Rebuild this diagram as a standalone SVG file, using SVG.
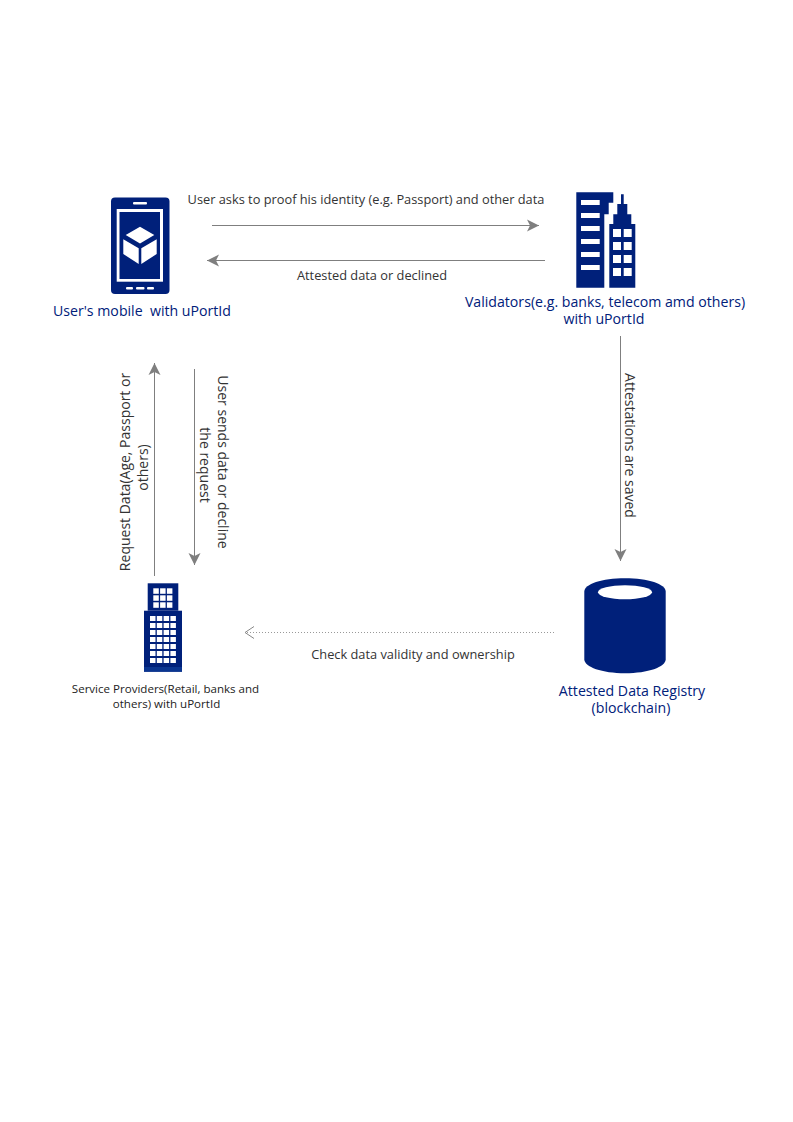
<svg xmlns="http://www.w3.org/2000/svg" width="793" height="1122" viewBox="0 0 793 1122">
<style>
text{font-family:"Open Sans","Liberation Sans",sans-serif;font-size:12.8px;fill:#333;text-anchor:middle}
.r{font-size:14px}
.n{fill:#00207a;font-size:14.15px;white-space:pre}
.s{font-size:11.550px;fill:#222}
.f{fill:#00207a}
.w{fill:#fff}
.c{stroke:#7f7f7f;stroke-width:1;fill:none}
.d{stroke:#999;stroke-dasharray:1 2}
</style>
<defs>
<marker id="a" markerUnits="userSpaceOnUse" markerWidth="14" markerHeight="14" refX="13" refY="7" orient="auto"><path d="M1 1L13 7L1 13L4 7Z" fill="#7f7f7f"/></marker>
<marker id="o" markerUnits="userSpaceOnUse" markerWidth="12" markerHeight="14" refX="10" refY="7" orient="auto"><path d="M1 1L10 7L1 13" fill="none" stroke="#888"/></marker>
</defs>
<g id="connectors">
<path class="c" marker-end="url(#a)" d="M212 225.500H539"/>
<path class="c" marker-end="url(#a)" d="M545 260.500H207"/>
<path class="c" marker-end="url(#a)" d="M620.500 336V561"/>
<path class="c" marker-end="url(#a)" d="M154.500 576V363"/>
<path class="c" marker-end="url(#a)" d="M194.500 369V565"/>
<path class="c d" marker-end="url(#o)" d="M554 632.500H245"/>
<text x="366" y="204">User asks to proof his identity (e.g. Passport) and other data</text>
<text x="372" y="280">Attested data or declined</text>
<text class="r" transform="translate(625 445.500) rotate(90)">Attestations are saved</text>
<text class="r" transform="translate(130 472) rotate(-90)">Request Data(Age, Passport or</text>
<text class="r" transform="translate(148 467.500) rotate(-90)">others)</text>
<text class="r" transform="translate(218 462) rotate(90)">User sends data or decline</text>
<text class="r" transform="translate(200 465) rotate(90)">the request</text>
<text x="413" y="659">Check data validity and ownership</text>
</g>
<g id="mobile">
<rect class="f" x="111" y="197.500" width="58.500" height="96.500" rx="4"/>
<rect class="w" x="116.700" y="209" width="46.300" height="72.700"/>
<rect class="f" x="119.500" y="212" width="40.500" height="67"/>
<rect class="w" x="133" y="202" width="14" height="2.500" rx="1"/>
<rect class="w" x="126" y="287" width="7" height="2.500" rx="1"/>
<rect class="w" x="136" y="287" width="8.500" height="2.500" rx="1"/>
<rect class="w" x="147" y="287" width="7" height="2.500" rx="1"/>
<path class="w" d="M140 226.700L154.300 235L140 243.500L125.700 235ZM123.300 239.300L138.700 248.300V264L123.300 254ZM156.700 239.300L141.300 248.300V264L156.700 254Z"/>
<text class="n" x="142" y="316">User's mobile  with uPortId</text>
</g>
<g id="validators">
<path class="f" d="M576.300 192.300H613.300V202.700H608.700V214.300H604.300V287.700H576.300Z"/>
<path class="f" d="M609.300 287.700V224H613.300V214.300H617.300V204H621V194.300H623.700V204H627.300V214.300H631.300V224H635.300V287.700Z"/>
<g class="w">
<rect x="581" y="200" width="18.700" height="5"/><rect x="581" y="213" width="18.700" height="5"/><rect x="581" y="226" width="18.700" height="5"/><rect x="581" y="239" width="18.700" height="5"/><rect x="581" y="252" width="18.700" height="5"/><rect x="581" y="265" width="18.700" height="5"/>
<rect x="613" y="229" width="8" height="8"/><rect x="623.700" y="229" width="8" height="8"/>
<rect x="613" y="242" width="8" height="8"/><rect x="623.700" y="242" width="8" height="8"/>
<rect x="613" y="255" width="8" height="8"/><rect x="623.700" y="255" width="8" height="8"/>
<rect x="613" y="268" width="8" height="8"/><rect x="623.700" y="268" width="8" height="8"/>
</g>
<text class="n" x="605" y="307">Validators(e.g. banks, telecom amd others)</text>
<text class="n" x="604" y="324">with uPortId</text>
</g>
<g id="service-providers">
<rect class="f" x="147.700" y="583.300" width="30.600" height="27.400"/>
<rect class="f" x="144" y="610.700" width="38" height="61"/>
<rect x="144" y="667" width="38" height="4.700" fill="#0a3590"/>
<g class="w">
<rect x="153.300" y="588.300" width="5.500" height="5.500"/><rect x="160.100" y="588.300" width="5.500" height="5.500"/><rect x="166.900" y="588.300" width="5.500" height="5.500"/>
<rect x="153.300" y="595.300" width="5.500" height="5.500"/><rect x="160.100" y="595.300" width="5.500" height="5.500"/><rect x="166.900" y="595.300" width="5.500" height="5.500"/>
<rect x="153.300" y="602.300" width="5.500" height="5.500"/><rect x="160.100" y="602.300" width="5.500" height="5.500"/><rect x="166.900" y="602.300" width="5.500" height="5.500"/>
<rect x="150" y="616" width="5.500" height="5"/><rect x="156.800" y="616" width="5.500" height="5"/><rect x="163.600" y="616" width="5.500" height="5"/><rect x="170.400" y="616" width="5.500" height="5"/>
<rect x="150" y="623" width="5.500" height="5"/><rect x="156.800" y="623" width="5.500" height="5"/><rect x="163.600" y="623" width="5.500" height="5"/><rect x="170.400" y="623" width="5.500" height="5"/>
<rect x="150" y="630" width="5.500" height="5"/><rect x="156.800" y="630" width="5.500" height="5"/><rect x="163.600" y="630" width="5.500" height="5"/><rect x="170.400" y="630" width="5.500" height="5"/>
<rect x="150" y="637" width="5.500" height="5"/><rect x="156.800" y="637" width="5.500" height="5"/><rect x="163.600" y="637" width="5.500" height="5"/><rect x="170.400" y="637" width="5.500" height="5"/>
<rect x="150" y="644" width="5.500" height="5"/><rect x="156.800" y="644" width="5.500" height="5"/><rect x="163.600" y="644" width="5.500" height="5"/><rect x="170.400" y="644" width="5.500" height="5"/>
<rect x="150" y="651" width="5.500" height="5"/><rect x="156.800" y="651" width="5.500" height="5"/><rect x="163.600" y="651" width="5.500" height="5"/><rect x="170.400" y="651" width="5.500" height="5"/>
<rect x="150" y="658" width="5.500" height="5"/><rect x="156.800" y="658" width="5.500" height="5"/><rect x="163.600" y="658" width="5.500" height="5"/><rect x="170.400" y="658" width="5.500" height="5"/>
</g>
<text class="s" x="165.500" y="693">Service Providers(Retail, banks and</text>
<text class="s" x="166.500" y="708">others) with uPortId</text>
</g>
<g id="registry">
<path class="f" d="M584.300 591.700C584.300 584 602 578.300 625 578.300S665.700 584 665.700 591.700V659.300C665.700 667 648 673.300 625 673.300S584.300 667 584.300 659.300Z"/>
<ellipse class="w" cx="625" cy="592.300" rx="27" ry="7"/>
<text class="n" x="632" y="696">Attested Data Registry</text>
<text class="n" x="631" y="713">(blockchain)</text>
</g>
</svg>
